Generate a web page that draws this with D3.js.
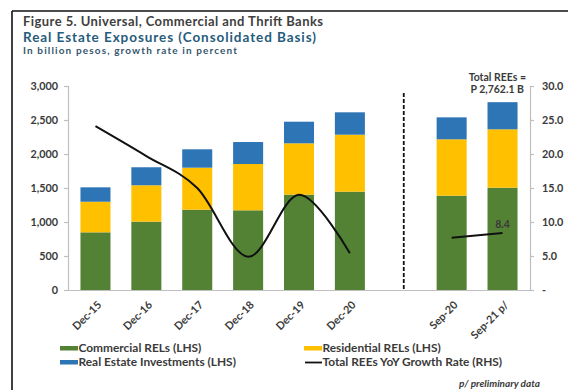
<!DOCTYPE html>
<html>
<head>
<meta charset="utf-8">
<script src="https://cdn.jsdelivr.net/npm/d3@7"></script>
<style>
  html, body { margin: 0; padding: 0; background: #fff; }
  svg { display: block; font-family: Lato, "Open Sans", sans-serif; }
</style>
</head>
<body>
<svg id="chart" width="568" height="390"></svg>
<script>
// Real estate exposures of universal, commercial and thrift banks (billion pesos)
const categories = ["Dec-15", "Dec-16", "Dec-17", "Dec-18", "Dec-19", "Dec-20", "Sep-20", "Sep-21 p/"];
const commercial = [848, 1005, 1181, 1172, 1402, 1446, 1387, 1505];
const residential = [450, 535, 618, 681, 755, 838, 829, 858];
const investments = [212, 265, 270, 323, 318, 329, 323, 399.1];
// Total REEs year-on-year growth rate (percent)
const growth = [24.1, 19.7, 15.0, 4.9, 14.0, 5.4, 7.7, 8.4];
const annualCount = 6; // first six points are year-end, the rest quarter-end
const leftTicks = [0, 500, 1000, 1500, 2000, 2500, 3000];
const rightTicks = [0, 5, 10, 15, 20, 25, 30];
const seriesNames = ["Commercial RELs (LHS)", "Residential RELs (LHS)", "Real Estate Investments (LHS)", "Total REEs YoY Growth Rate (RHS)"];
const colors = { commercial: "#548235", residential: "#ffc000", investments: "#2e75b6", line: "#111" };

const svg = d3.select("#chart");
const textColor = "#3a3a3a";

// frame around the figure
svg.append("line").attr("x1", 12).attr("x2", 568).attr("y1", 11).attr("y2", 11)
  .attr("stroke", "#111").attr("stroke-width", 1.6);
svg.append("line").attr("x1", 12).attr("x2", 12).attr("y1", 11).attr("y2", 390)
  .attr("stroke", "#111").attr("stroke-width", 1.6);

// titles
svg.append("text").attr("x", 23).attr("y", 25.5)
  .attr("font-size", 13).attr("font-weight", 700).attr("fill", "#404040")
  .attr("textLength", 300).attr("lengthAdjust", "spacing")
  .text("Figure 5. Universal, Commercial and Thrift Banks");
svg.append("text").attr("x", 23).attr("y", 41.5)
  .attr("font-size", 13.5).attr("font-weight", 700).attr("fill", "#265c7c")
  .attr("textLength", 293).attr("lengthAdjust", "spacing")
  .text("Real Estate Exposures (Consolidated Basis)");
svg.append("text").attr("x", 23).attr("y", 54.3)
  .attr("font-size", 10).attr("font-weight", 700).attr("fill", "#35566e")
  .attr("textLength", 214).attr("lengthAdjust", "spacing")
  .text("In billion pesos, growth rate in percent");

// scales: a spacer slot separates year-end and quarter-end groups
const gapKey = "break";
const slots = categories.slice(0, annualCount).concat([gapKey], categories.slice(annualCount));
const x = d3.scaleBand().domain(slots).range([68, 530]).paddingInner(0.41).paddingOuter(0.245);
const yL = d3.scaleLinear().domain([0, 3000]).range([290, 86]);
const yR = d3.scaleLinear().domain([0, 30]).range([290, 86]);

// stacked bars
const rows = categories.map((c, i) => ({ cat: c, commercial: commercial[i], residential: residential[i], investments: investments[i] }));
const stack = d3.stack().keys(["commercial", "residential", "investments"])(rows);
svg.append("g").selectAll("g").data(stack).join("g")
  .attr("fill", d => colors[d.key])
  .selectAll("rect").data(d => d).join("rect")
  .attr("x", d => x(d.data.cat))
  .attr("width", x.bandwidth())
  .attr("y", d => yL(d[1]))
  .attr("height", d => yL(d[0]) - yL(d[1]));

// axes
const axisColor = "#bfbfbf";
const gL = svg.append("g").attr("transform", "translate(68,0)")
  .call(d3.axisLeft(yL).tickValues(leftTicks).tickSize(4).tickPadding(6).tickFormat(d3.format(",")));
const gR = svg.append("g").attr("transform", "translate(530,0)")
  .call(d3.axisRight(yR).tickValues(rightTicks).tickSize(4).tickPadding(8)
    .tickFormat(d => d === 0 ? "-" : d3.format(".1f")(d)));
[gL, gR].forEach(g => {
  g.select(".domain").attr("stroke", axisColor).attr("stroke-width", 1.2);
  g.selectAll(".tick line").attr("stroke", axisColor).attr("stroke-width", 1.2);
  g.selectAll(".tick text").attr("font-size", 10.8).attr("font-weight", 700)
    .attr("fill", textColor).attr("font-family", "Lato, sans-serif");
});

const gX = svg.append("g").attr("transform", "translate(0,290)")
  .call(d3.axisBottom(x).tickValues(categories).tickSize(0).tickPadding(0));
gX.select(".domain").attr("stroke", axisColor).attr("stroke-width", 1.2);
gX.selectAll(".tick text")
  .attr("font-size", 10.8).attr("font-weight", 700).attr("fill", textColor)
  .attr("font-family", "Lato, sans-serif")
  .attr("text-anchor", "end")
  .attr("dy", "0.35em")
  .attr("transform", "translate(4,13) rotate(-45)");

// separator between year-end and quarter-end data
svg.append("line")
  .attr("x1", x(gapKey) + x.bandwidth() / 2 + 3).attr("x2", x(gapKey) + x.bandwidth() / 2 + 3)
  .attr("y1", 93).attr("y2", yL(0))
  .attr("stroke", "#111").attr("stroke-width", 1.8).attr("stroke-dasharray", "4,2");

// growth rate line, one segment per group
const line = d3.line()
  .x(d => x(d.cat) + x.bandwidth() / 2)
  .y(d => yR(d.v))
  .curve(d3.curveCardinal);
const pts = categories.map((c, i) => ({ cat: c, v: growth[i] }));
[pts.slice(0, annualCount), pts.slice(annualCount)].forEach(seg => {
  svg.append("path").datum(seg)
    .attr("d", line)
    .attr("fill", "none").attr("stroke", colors.line).attr("stroke-width", 2);
});

// latest growth value label
const last = pts[pts.length - 1];
svg.append("text")
  .attr("x", x(last.cat) + x.bandwidth() / 2)
  .attr("y", yR(last.v) - 5)
  .attr("text-anchor", "middle")
  .attr("font-size", 10.5).attr("font-weight", 700).attr("fill", textColor)
  .text(d3.format(".1f")(last.v));

// total for the latest quarter
const lastTotal = commercial[commercial.length - 1] + residential[residential.length - 1] + investments[investments.length - 1];
svg.append("text").attr("x", 526).attr("y", 81)
  .attr("text-anchor", "end").attr("font-size", 10.5).attr("font-weight", 700).attr("fill", textColor)
  .text("Total REEs =");
svg.append("text").attr("x", 524).attr("y", 93)
  .attr("text-anchor", "end").attr("font-size", 10.5).attr("font-weight", 700).attr("fill", textColor)
  .text("P " + d3.format(",.1f")(lastTotal) + " B");

// legend
const legend = [
  { name: seriesNames[0], color: colors.commercial, x: 60, y: 352, type: "rect" },
  { name: seriesNames[1], color: colors.residential, x: 304, y: 352, type: "rect" },
  { name: seriesNames[2], color: colors.investments, x: 60, y: 366, type: "rect" },
  { name: seriesNames[3], color: colors.line, x: 304, y: 366, type: "line" }
];
const lg = svg.append("g").selectAll("g").data(legend).join("g")
  .attr("transform", d => `translate(${d.x},${d.y})`);
lg.filter(d => d.type === "rect").append("rect")
  .attr("x", 0).attr("y", -6).attr("width", 18).attr("height", 4.5).attr("fill", d => d.color);
lg.filter(d => d.type === "line").append("line")
  .attr("x1", 1).attr("x2", 18).attr("y1", -3.5).attr("y2", -3.5)
  .attr("stroke", d => d.color).attr("stroke-width", 1.8);
lg.append("text").attr("x", 18.5).attr("y", 0)
  .attr("font-size", 11.9).attr("font-weight", 700).attr("fill", textColor)
  .text(d => d.name);

// footnote
svg.append("text").attr("x", 540).attr("y", 387)
  .attr("text-anchor", "end").attr("font-size", 10).attr("font-weight", 700)
  .attr("font-style", "italic").attr("fill", "#3a3a3a")
  .text("p/ preliminary data");
</script>
</body>
</html>
